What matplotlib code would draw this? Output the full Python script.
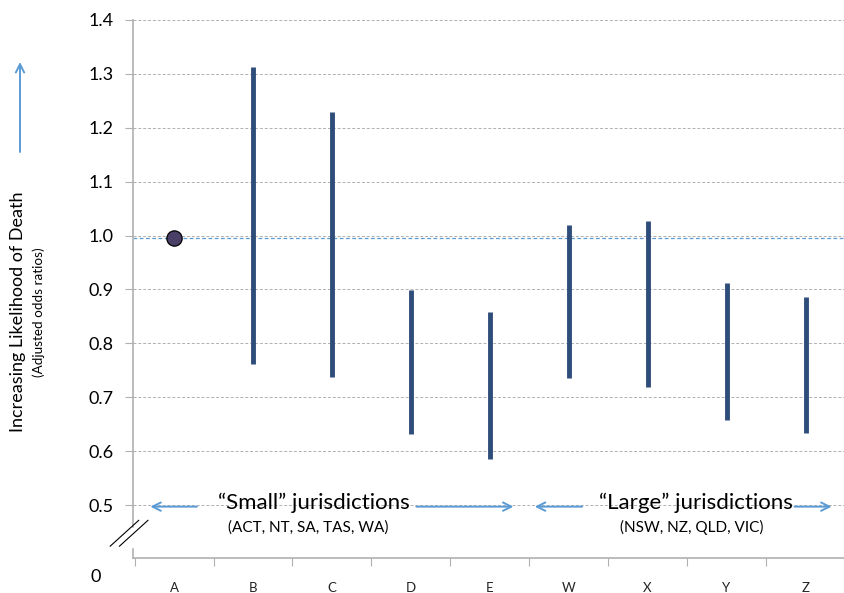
import matplotlib.pyplot as plt
import matplotlib.transforms as mtransforms
from matplotlib.lines import Line2D

plt.rcParams['font.family'] = ['Lato', 'DejaVu Sans']

# data
categories = ['A', 'B', 'C', 'D', 'E', 'W', 'X', 'Y', 'Z']
ref_value = 0.995
lower = [None, 0.762, 0.738, 0.632, 0.586, 0.736, 0.719, 0.658, 0.634]
upper = [None, 1.313, 1.229, 0.899, 0.858, 1.020, 1.027, 0.912, 0.886]
yticks = [0.5, 0.6, 0.7, 0.8, 0.9, 1.0, 1.1, 1.2, 1.3, 1.4]

fig = plt.figure(figsize=(8.45, 5.93), dpi=100)
ax = fig.add_axes([133 / 845, 35 / 593, 712 / 845, 538 / 593])

ax.set_xlim(-0.52, 8.4)
ax.set_ylim(0.4017, 1.4)

# gridlines
for v in yticks:
    ax.axhline(v, color='#b0b0b0', lw=0.7, ls=(0, (3, 2)), zorder=0)

# reference line
ax.axhline(ref_value, color='#5b9bd5', lw=0.9, ls=(0, (3, 2)), zorder=1)

# intervals
for i, (lo, hi) in enumerate(zip(lower, upper)):
    if lo is None:
        continue
    ax.vlines(i, lo, hi, color='#2e4d7a', lw=3.5, zorder=3)

# reference point
ax.plot(0, ref_value, 'o', ms=11, mfc='#4a3f66', mec='black', mew=0.9, zorder=4)

# axes styling
for s in ['top', 'right']:
    ax.spines[s].set_visible(False)
for s in ['left', 'bottom']:
    ax.spines[s].set_color('#b0b0b0')
    ax.spines[s].set_linewidth(1.2)

ax.set_yticks(yticks)
ax.set_yticklabels([f'{v:.1f}' for v in yticks], fontsize=13)
ax.tick_params(axis='y', length=6, color='#b0b0b0', pad=8)

ax.set_xticks([i + 0.5 for i in range(-1, 9)])
ax.set_xticklabels([])
ax.tick_params(axis='x', length=6, color='#b0b0b0')
off = mtransforms.ScaledTranslation(0, -0.24, fig.dpi_scale_trans)
for i, c in enumerate(categories):
    ax.text(i, 0.4017, c, transform=ax.transData + off, ha='center', va='top',
            fontsize=9.5, color='#222222')

# axis break
ax.text(-0.52, 0.4017, '0',
        transform=ax.transData + mtransforms.ScaledTranslation(-0.37, -0.11, fig.dpi_scale_trans),
        ha='center', va='top', fontsize=13)
bx = ax.transAxes
ax.add_patch(plt.Rectangle((-0.005, 0.02), 0.012, 0.035, transform=bx, color='white',
                           clip_on=False, zorder=5))
for dy in (0.0, 0.013):
    ax.add_line(Line2D([-0.032 + dy, 0.008 + dy], [0.022, 0.07], transform=bx,
                       color='black', lw=0.8, clip_on=False, zorder=6))

# group annotations
arrow_kw = dict(arrowstyle='->', color='#5b9bd5', lw=1.4, mutation_scale=15,
                shrinkA=0, shrinkB=0)
ya = 0.497
for x0, x1 in [(0.29, -0.3), (3.07, 4.3), (5.17, 4.57), (7.86, 8.33)]:
    ax.annotate('', xy=(x1, ya), xytext=(x0, ya), arrowprops=arrow_kw, zorder=4)
ax.text(1.77, 0.505, '\u201cSmall\u201d jurisdictions', ha='center', va='center', fontsize=16)
ax.text(1.70, 0.459, '(ACT, NT, SA, TAS, WA)', ha='center', va='center', fontsize=11)
ax.text(6.61, 0.505, '\u201cLarge\u201d jurisdictions', ha='center', va='center', fontsize=16)
ax.text(6.56, 0.459, '(NSW, NZ, QLD, VIC)', ha='center', va='center', fontsize=11)

# y label
fig.text(18 / 845, 1 - 312 / 593, 'Increasing Likelihood of Death', rotation=90,
         ha='center', va='center', fontsize=13)
fig.text(39 / 845, 1 - 312 / 593, '(Adjusted odds ratios)', rotation=90,
         ha='center', va='center', fontsize=9.7)
fig.add_artist(plt.Annotation('', xy=(20 / 845, 1 - 62 / 593), xycoords='figure fraction',
                              xytext=(20 / 845, 1 - 152 / 593), textcoords='figure fraction',
                              arrowprops=dict(arrowstyle='->', color='#5b9bd5', lw=1.4,
                                              mutation_scale=15, shrinkA=0, shrinkB=0)))

fig.savefig('out.png', dpi=100)
